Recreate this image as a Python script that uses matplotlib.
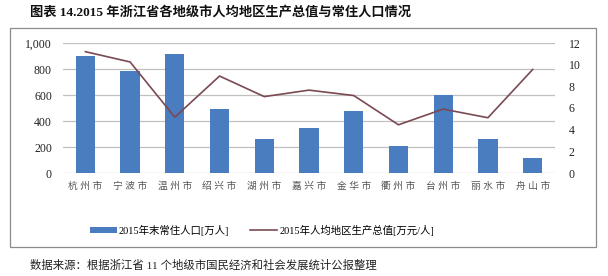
import matplotlib
matplotlib.use("Agg")
import matplotlib.pyplot as plt
from matplotlib.patches import Rectangle
import numpy as np

plt.rcParams['font.family'] = ['Liberation Serif', 'Noto Sans CJK SC', 'DejaVu Sans']

cities = ['杭州市', '宁波市', '温州市', '绍兴市', '湖州市', '嘉兴市',
          '金华市', '衢州市', '台州市', '丽水市', '舟山市']
# 2015年末常住人口 [万人]
population = [901, 781, 912, 495, 264, 346, 476, 210, 600, 263, 114]
# 2015年人均地区生产总值 [万元/人]
gdp_per_capita = [11.2, 10.25, 5.15, 8.95, 7.05, 7.65, 7.15, 4.45, 5.9, 5.1, 9.55]

bar_label = '2015年末常住人口[万人]'
line_label = '2015年人均地区生产总值[万元/人]'
title = '图表 14.2015 年浙江省各地级市人均地区生产总值与常住人口情况'
source = '数据来源：根据浙江省 11 个地级市国民经济和社会发展统计公报整理'

W, H = 608, 276
fig = plt.figure(figsize=(W / 100, H / 100), dpi=100)

# outer frame of the chart
fig.patches.append(Rectangle((10 / W, 1 - 247 / H), 586 / W, 219 / H,
                             transform=fig.transFigure, fill=False,
                             edgecolor='#8c8c8c', linewidth=0.9))

ax = fig.add_axes([63 / W, 1 - 173 / H, 492 / W, 130 / H])
x = np.arange(len(cities))
bars = ax.bar(x, population, width=0.43, color='#4a7cc0', zorder=3)
ax.set_xlim(-0.5, len(cities) - 0.5)
ax.set_ylim(0, 1000)
ax.set_yticks(np.arange(0, 1001, 200))
ax.set_yticklabels(['0', '200', '400', '600', '800', '1,000'])
ax.yaxis.grid(True, color='#c0c0c0', linewidth=0.9, zorder=0)
ax.set_xticks(x)
# spaced-out city names, as in the original
ax.set_xticklabels([' '.join(c) for c in cities], fontsize=7, color='#555555')
ax.tick_params(axis='y', length=0, labelsize=8.5, colors='#222222', pad=8)
ax.tick_params(axis='x', length=0, pad=6)
for s in ax.spines.values():
    s.set_visible(False)

ax2 = ax.twinx()
line, = ax2.plot(x, gdp_per_capita, color='#7a4a52', linewidth=1.2, zorder=4)
ax2.set_ylim(0, 12)
ax2.set_yticks(np.arange(0, 13, 2))
ax2.tick_params(axis='y', length=0, labelsize=8.5, colors='#222222', pad=10)
for s in ax2.spines.values():
    s.set_visible(False)

fig.legend([bars, line], [bar_label, line_label], loc='center',
           bbox_to_anchor=(262 / W, 1 - 230 / H), ncol=2, frameon=False,
           fontsize=7.5, handlelength=2.6, handleheight=0.5, columnspacing=2.0,
           handletextpad=0.2)

fig.text(30 / W, 1 - 13 / H, title, fontsize=9.5, fontweight='bold',
         va='center', ha='left', color='#111111')
fig.text(30 / W, 1 - 265 / H, source, fontsize=8.2, va='center', ha='left',
         color='#222222')

fig.savefig('out.png', dpi=100)
